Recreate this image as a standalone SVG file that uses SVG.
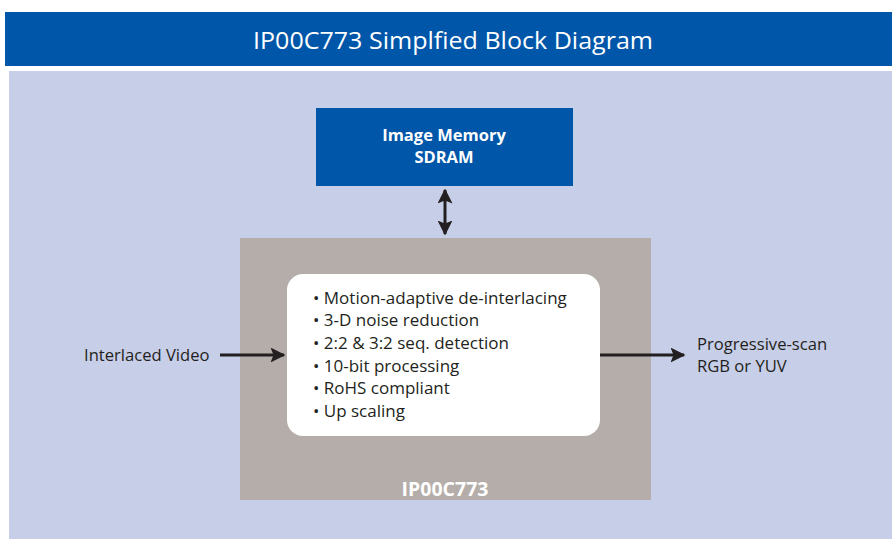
<svg xmlns="http://www.w3.org/2000/svg" width="892" height="539" viewBox="0 0 892 539">
<defs>
<marker id="ah" viewBox="0 0 10 10" refX="9" refY="5" markerWidth="5" markerHeight="5" orient="auto-start-reverse" markerUnits="strokeWidth">
<path d="M0,0 L10,5 L0,10 L2,5 Z" fill="#231F20"/>
</marker>
<style>
.t{font-family:"Open Sans","Liberation Sans",sans-serif;fill:#231F20}
.w{font-family:"Open Sans","Liberation Sans",sans-serif;fill:#fff}
.b{font-weight:bold}
.c{stroke:#231F20;stroke-width:3;fill:none}
</style>
</defs>
<rect width="892" height="539" fill="#fff"/>
<g id="title">
<rect x="5" y="12" width="887" height="54" fill="#0056A8"/>
<text class="w" x="453" y="49" font-size="24" text-anchor="middle" textLength="400" lengthAdjust="spacingAndGlyphs">IP00C773 Simplfied Block Diagram</text>
</g>
<rect x="9" y="71" width="883" height="468" fill="#C7CEE7"/>
<g id="memory">
<rect x="316" y="108" width="257" height="78" fill="#0056A8"/>
<text class="w b" x="444" y="141" font-size="16.5" text-anchor="middle">Image Memory</text>
<text class="w b" x="444" y="163" font-size="16.5" text-anchor="middle">SDRAM</text>
</g>
<g id="chip">
<rect x="240" y="238" width="411" height="262" fill="#B5ADA9"/>
<rect x="287" y="274" width="313" height="162" rx="16" fill="#fff"/>
<g class="t" font-size="17">
<text x="313" y="304">• Motion-adaptive de-interlacing</text>
<text x="313" y="326">• 3-D noise reduction</text>
<text x="313" y="349">• 2:2 &amp; 3:2 seq. detection</text>
<text x="313" y="372">• 10-bit processing</text>
<text x="313" y="394">• RoHS compliant</text>
<text x="313" y="417">• Up scaling</text>
</g>
<text class="w b" x="445" y="496" font-size="19.5" text-anchor="middle">IP00C773</text>
</g>
<g id="input">
<text class="t" x="84" y="361" font-size="16.6">Interlaced Video</text>
</g>
<g id="output">
<text class="t" x="697" y="350" font-size="16.6">Progressive-scan</text>
<text class="t" x="697" y="372" font-size="16.6">RGB or YUV</text>
</g>
<g id="connectors">
<line class="c" x1="445" y1="190" x2="445" y2="234" marker-start="url(#ah)" marker-end="url(#ah)"/>
<line class="c" x1="220" y1="355" x2="284" y2="355" marker-end="url(#ah)"/>
<line class="c" x1="600" y1="355" x2="684" y2="355" marker-end="url(#ah)"/>
</g>
</svg>
